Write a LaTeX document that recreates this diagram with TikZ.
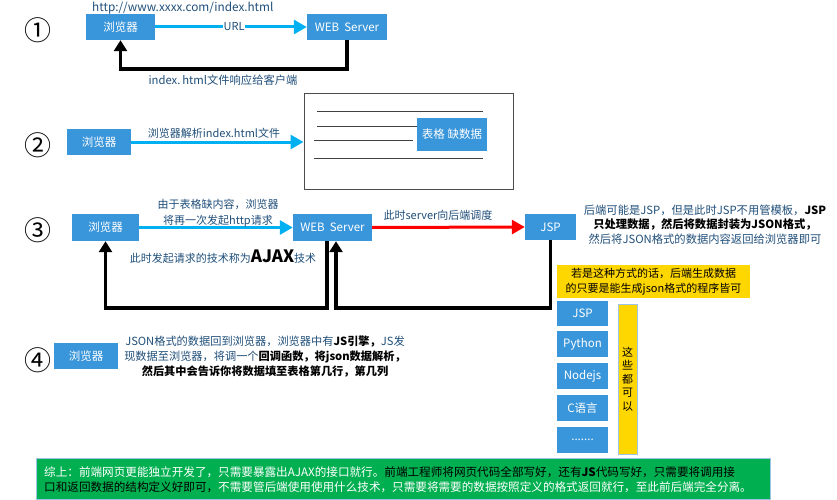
\documentclass[tikz,border=0pt]{standalone}
\usepackage{fontspec}
\setmainfont{Noto Sans CJK SC}
\usetikzlibrary{arrows.meta}
\definecolor{boxblue}{HTML}{3A96DB}
\definecolor{txtblue}{HTML}{1F4E79}
\definecolor{arrcyan}{HTML}{00B0F0}
\definecolor{arrred}{HTML}{FF0000}
\definecolor{ylw}{HTML}{FFD700}
\definecolor{grn}{HTML}{00B050}
\definecolor{grnborder}{HTML}{9DC3E6}
\tikzset{
  bbox/.style={fill=boxblue, text=white, inner sep=0pt, font=\fontsize{11.5}{13}\selectfont},
  num/.style={inner sep=0pt, font=\fontsize{27}{28}\selectfont},
  lbl/.style={inner sep=0pt, text=txtblue, font=\fontsize{11}{13}\selectfont},
  cyanarr/.style={draw=arrcyan, line width=3pt, -{Triangle[length=13pt,width=14pt]}},
  redarr/.style={draw=arrred, line width=3pt, -{Triangle[length=13pt,width=14pt]}},
  ret/.style={draw=black, line width=3.5pt, -{Triangle[length=11pt,width=13pt]}},
  pline/.style={draw=black!75, line width=1pt},
}
\begin{document}
\begin{tikzpicture}[x=1pt,y=-1pt]
\useasboundingbox (0,0) rectangle (837,500);

% ---------- 1 ----------
\node[num] (n1) at (38,30) {①};
\node[bbox, minimum width=69pt, minimum height=26pt] (b1) at (120.5,27) {浏览器};
\node[bbox, minimum width=80pt, minimum height=26pt] (ws1) at (347,27) {WEB\ \ Server};
\node[lbl, anchor=west, font=\fontsize{11.8}{13}\selectfont] (url) at (92,8) {http://www.xxxx.com/index.html};
\draw[cyanarr] (b1.east) -- (ws1.west) node[pos=0.52, fill=white, inner sep=1pt, text=txtblue, font=\fontsize{11}{13}\selectfont] (urllbl) {URL};
\draw[ret] (ws1.south) -- ++(0,29) -| (b1.south);
\node[lbl, font=\fontsize{11.3}{13}\selectfont] (resp) at (223,80) {index.\,html文件响应给客户端};

% ---------- 2 ----------
\node[num] (n2) at (38,145) {②};
\node[bbox, minimum width=64pt, minimum height=26pt] (b2) at (99,142) {浏览器};
\node[draw=black!70, line width=1pt, minimum width=209pt, minimum height=95pt, inner sep=0pt] (page) at (408.5,141.5) {};
\draw[cyanarr] (b2.east) -- (b2.east -| page.west);
\node[lbl] (parse) at (214,133) {浏览器解析index.html文件};
\coordinate (l1a) at (317,112); \coordinate (l1b) at (483,112);
\coordinate (l2a) at (317,126); \coordinate (l2b) at (417,126);
\coordinate (l3a) at (314,140); \coordinate (l3b) at (413,140);
\coordinate (l4a) at (314,158); \coordinate (l4b) at (483,158);
\draw[pline] (l1a) -- (l1b);
\draw[pline] (l2a) -- (l2b);
\draw[pline] (l3a) -- (l3b);
\draw[pline] (l4a) -- (l4b);
\node[bbox, minimum width=70pt, minimum height=33pt] (tbl) at (452,134.5) {表格\ 缺数据};

% ---------- 3 ----------
\node[num] (n3) at (38,230) {③};
\node[bbox, minimum width=67pt, minimum height=27pt] (b3) at (105.5,227.5) {浏览器};
\node[bbox, minimum width=79pt, minimum height=27pt] (ws3) at (332.5,227.5) {WEB\ \ Server};
\node[bbox, minimum width=51pt, minimum height=26pt] (jsp3) at (550.5,227) {JSP};
\draw[cyanarr] (b3.east) -- (ws3.west);
\node[lbl, align=center, font=\fontsize{11}{15.5}\selectfont] (req) at (218,213) {由于表格缺内容，浏览器\\将再一次发起http请求};
\draw[redarr] (ws3.east) -- (jsp3.west);
\node[lbl] (sched) at (438,215) {此时server向后端调度};
\draw[ret] ([xshift=-5.5pt]ws3.south) -- ++(0,67) -| (b3.south);
\draw[ret] (jsp3.south) -- ++(0,68) -| ([xshift=3.5pt]ws3.south);
\node[lbl, anchor=base] (ajax) at (223,262) {此时发起请求的技术称为{\color{black}\fontsize{17}{18}\selectfont\bfseries AJAX}技术};
\node[lbl, align=center, font=\fontsize{11.3}{14.5}\selectfont] (jspdesc) at (705,224.5) {后端可能是JSP，但是此时JSP不用管模板，{\color{black}\bfseries JSP}\\{\color{black}\bfseries 只处理数据，然后将数据封装为JSON格式，}\\然后将JSON格式的数据内容返回给浏览器即可};
\node[fill=ylw, minimum width=193pt, minimum height=33pt, inner sep=0pt] (ybox) at (653.5,281.5) {};
\node[align=center, inner sep=0pt, font=\fontsize{11}{15}\selectfont] (ytext) at (ybox.center) {若是这种方式的话，后端生成数据\\的只要是能生成json格式的程序皆可};

% stack
\node[bbox, minimum width=51pt, minimum height=25pt] (s1) at (582.5,313.5) {JSP};
\node[bbox, minimum width=51pt, minimum height=26pt] (s2) at (582.5,344) {Python};
\node[bbox, minimum width=51pt, minimum height=26pt] (s3) at (582.5,376) {Nodejs};
\node[bbox, minimum width=51pt, minimum height=26pt] (s4) at (582.5,408) {C语言};
\node[bbox, minimum width=51pt, minimum height=26pt] (s5) at (582.5,440) {.......};
\node[fill=ylw, draw=grnborder, line width=0.8pt, minimum width=19pt, minimum height=150pt, inner sep=0pt] (vbox) at (627.5,379) {};
\node[align=center, inner sep=0pt, font=\fontsize{11}{13.5}\selectfont] (vtext) at (vbox.center) {这\\些\\都\\可\\以};

% ---------- 4 ----------
\node[num] (n4) at (38,360) {④};
\node[bbox, minimum width=64pt, minimum height=26pt] (b4) at (86,356) {浏览器};
\node[lbl, align=center, font=\fontsize{11.2}{15}\selectfont] (json) at (265,357) {JSON格式的数据回到浏览器，浏览器中有{\color{black}\bfseries JS引擎，}JS发\\现数据至浏览器，将调一个{\color{black}\bfseries 回调函数，将json数据解析，}\\{\color{black}\bfseries 然后其中会告诉你将数据填至表格第几行，第几列}};

% ---------- summary ----------
\node[fill=grn, draw=grnborder, line width=1pt, minimum width=734pt, minimum height=41pt, inner sep=0pt] (sum) at (403,478.5) {};
\node[anchor=west, align=left, inner sep=0pt, text=white, font=\fontsize{11.6}{15}\selectfont] (sumtext) at (44,479.5) {综上：前端网页更能独立开发了，只需要暴露出AJAX的接口就行。{\color{black}前端工程师将网页代码全部写好，还有\textbf{JS}代码写好，只需要将调用接}\\{\color{black}口和返回数据的结构定义好即可，}不需要管后端使用使用什么技术，只需要将需要的数据按照定义的格式返回就行，至此前后端完全分离。};
\end{tikzpicture}
\end{document}
